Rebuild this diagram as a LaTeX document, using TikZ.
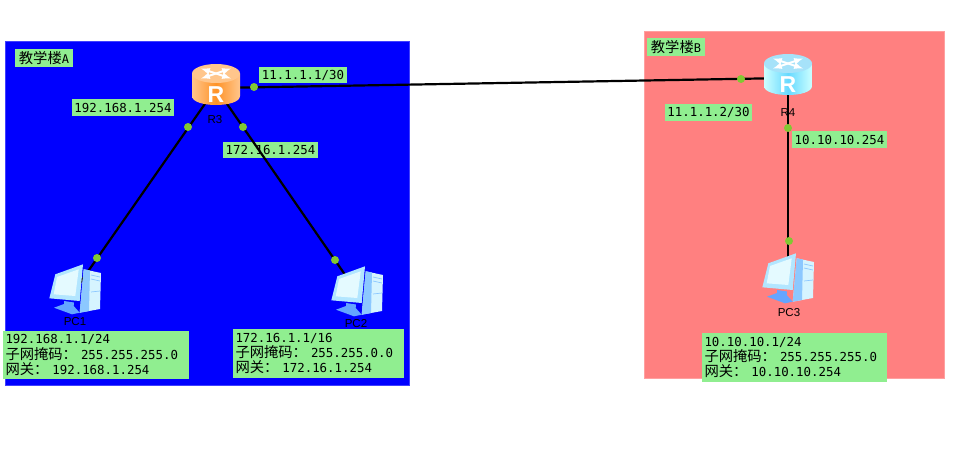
\documentclass[tikz,border=0pt]{standalone}
\usepackage{fontspec}
\setmainfont{DejaVu Sans Mono}
\newfontfamily\cjk{Noto Sans CJK SC}
\newfontfamily\hostfont{Liberation Sans}
\usetikzlibrary{arrows}
\definecolor{tagfill}{RGB}{144,238,144}
\definecolor{portfill}{RGB}{130,200,50}
\definecolor{areaA}{RGB}{0,0,255}
\definecolor{areaB}{RGB}{255,128,128}
\definecolor{pcframe}{RGB}{178,230,255}
\definecolor{pcscreen}{RGB}{228,250,255}
\definecolor{pcbody}{RGB}{214,244,255}
\definecolor{pcpanel}{RGB}{140,200,255}
\definecolor{pcstand}{RGB}{100,165,255}
\tikzset{
	building/.style = {draw, line width=1pt, rectangle, inner sep=0pt},
	device/.style   = {coordinate}, % icon is drawn later
	tag/.style      = {fill=tagfill, rectangle, inner sep=0pt, font=\fontsize{12.4}{15}\selectfont},
	infotag/.style  = {fill=tagfill, rectangle, inner xsep=2.5pt, inner ysep=0pt, align=left,
		font=\fontsize{12.4}{15.4}\selectfont},
	hostname/.style = {inner sep=0pt, font=\hostfont\fontsize{11.5}{13}\selectfont},
	link/.style     = {draw, black, line width=2.2pt},
	port/.style     = {circle, fill=portfill, inner sep=0pt, minimum size=8pt}
}
\newcommand{\zh}[1]{{\cjk\fontsize{14.3}{15.4}\selectfont #1}}
% router icon, #1 node, #2 top, #3 side edge, #4 side middle
\newcommand{\routericon}[4]{
	\begin{scope}[shift={(#1)}]
		\path[left color=#3, right color=#3, middle color=#4]
			(-24,-14.5) -- (-24,8) .. controls (-24,20) and (24,20) .. (24,8) -- (24,-14.5) -- cycle;
		\fill[#2] (0,-14.5) ellipse [x radius=24pt, y radius=9.5pt];
		\draw[white, line width=2pt, >=latex, <->] (-15,-19.5) -- (15,-9.5);
		\draw[white, line width=2pt, >=latex, <->] (-15,-9.5) -- (15,-19.5);
		\node[text=white, inner sep=0pt, font=\hostfont\bfseries\fontsize{23}{23}\selectfont] at (0,7) {R};
	\end{scope}
}
% computer icon, #1 node
\newcommand{\pcicon}[1]{
	\begin{scope}[shift={(#1)}]
		% tower
		\fill[pcbody] (8.7,-20.7) -- (26,-17) -- (25,19) -- (4.7,22.7) -- cycle;
		\fill[pcpanel] (8.7,-20.7) -- (15,-19.5) -- (14,21) -- (4.7,22.7) -- cycle;
		\draw[pcpanel, line width=0.7pt] (16,-15) -- (25,-13) (16,-11) -- (25,-9) (16,2) -- (25,1);
		% stand
		\fill[pcstand] (-11,11) -- (-1,12.5) -- (-1.3,16) -- (4.7,22.7) -- (-3,24.3) -- (-21,17.7) -- (-11,14) -- cycle;
		% monitor
		\fill[pcframe] (-19.7,-15.7) -- (8,-25.7) -- (4.7,11) -- (-25.7,8.3) -- cycle;
		\fill[pcscreen] (-18,-13) -- (3.7,-20.7) -- (0.3,6) -- (-21.3,4.3) -- cycle;
	\end{scope}
}
\begin{document}
\begin{tikzpicture}[x=1pt, y=-1pt, >=latex]
		\useasboundingbox (0,0) rectangle (971,461);
		\draw
		% Drawing the two buildings
		node at (207,213) [building, fill=areaA, draw=areaA!75!white, minimum width=404pt, minimum height=344pt] (areaa) {}
		node at (794,204.5) [building, fill=areaB, draw=areaB!75!white, minimum width=300pt, minimum height=347pt] (areab) {}
		node at (216,88) [device] (r3) {}
		node at (788,78) [device] (r4) {}
		node at (75,290) [device] (pc1) {}
		node at (357,292) [device] (pc2) {}
		node at (788,279) [device] (pc3) {};
		
		\draw
		% Device names
		node at (215,120) [hostname] (r3name) {R3}
		node at (788,113) [hostname] (r4name) {R4}
		node at (75,322) [hostname] (pc1name) {PC1}
		node at (356,324) [hostname] (pc2name) {PC2}
		node at (789,313) [hostname] (pc3name) {PC3};
		
		\draw
		% Labels
		node at (44,58) [tag, minimum width=58pt, minimum height=18pt] (taga) {\zh{教学楼}\fontsize{12}{12}\selectfont A}
		node at (676,47) [tag, minimum width=58pt, minimum height=18pt] (tagb) {\zh{教学楼}\fontsize{12}{12}\selectfont B}
		node at (303,75) [tag, minimum width=88pt, minimum height=16pt] (tagr3wan) {11.1.1.1/30}
		node at (123,107.5) [tag, minimum width=102pt, minimum height=17pt] (tagr3a) {192.168.1.254}
		node at (270.5,150) [tag, minimum width=95pt, minimum height=16pt] (tagr3b) {172.16.1.254}
		node at (708.5,112.5) [tag, minimum width=87pt, minimum height=17pt] (tagr4wan) {11.1.1.2/30}
		node at (839.5,139.5) [tag, minimum width=95pt, minimum height=17pt] (tagr4a) {10.10.10.254};
		
		\draw
		% Address boxes of the computers
		node at (96,355) [infotag, text width=181pt, minimum height=48pt] (infopc1)
			{192.168.1.1/24\\\zh{子网掩码：}\hspace{4pt}255.255.255.0\\\zh{网关：}\hspace{4pt}192.168.1.254}
		node at (318.5,353.5) [infotag, text width=166pt, minimum height=49pt] (infopc2)
			{172.16.1.1/16\\\zh{子网掩码：}\hspace{4pt}255.255.0.0\\\zh{网关：}\hspace{4pt}172.16.1.254}
		node at (794.5,357.5) [infotag, text width=180pt, minimum height=49pt] (infopc3)
			{10.10.10.1/24\\\zh{子网掩码：}\hspace{4pt}255.255.255.0\\\zh{网关：}\hspace{4pt}10.10.10.254};
		
		\draw[link](r3) -- (pc1);
		\draw[link](r3) -- (pc2);
		\draw[link](r3) -- (r4);
		\draw[link](r4) -- (pc3);
		
		\routericon{r3}{orange!45!white}{orange!45!white}{orange!85!white}
		\routericon{r4}{cyan!35!white}{cyan!20!white}{blue!25!cyan!60!white}
		\pcicon{pc1}
		\pcicon{pc2}
		\pcicon{pc3}
		
		\draw
		node at (188,127) [port] (p1) {}
		node at (97,258) [port] (p2) {}
		node at (243,127) [port] (p3) {}
		node at (335,260) [port] (p4) {}
		node at (254,87) [port] (p5) {}
		node at (741,79) [port] (p6) {}
		node at (788,128) [port] (p7) {}
		node at (789,241) [port] (p8) {};
		
\end{tikzpicture}
\end{document}
